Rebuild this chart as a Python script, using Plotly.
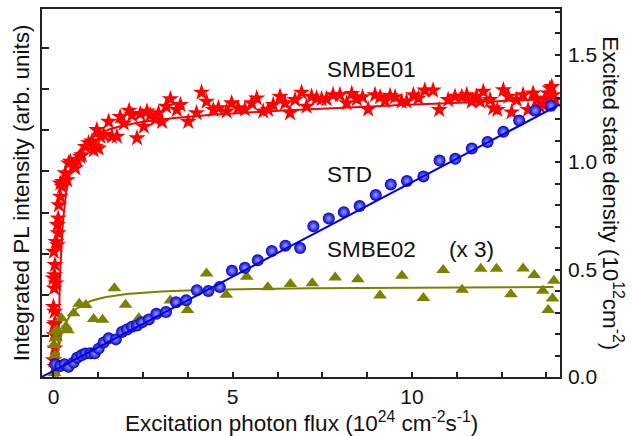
import numpy as np
import plotly.graph_objects as go

# ---------------- data ----------------
# SMBE01 integrated PL (stars, left axis, arb. units)
smbe01_x = [0.04, 0.00, 0.04, 0.02, 0.10, 0.02, 0.05, 0.00, 0.03, 0.02, 0.00, 0.07, 0.03, 0.04,
            0.01, 0.11, 0.07, 0.13, 0.11, 0.13, 0.15, 0.19, 0.24, 0.19, 0.26, 0.33, 0.38, 0.42,
            0.47, 0.56, 0.61, 0.66, 0.75, 0.79, 0.89, 0.98, 1.07, 1.12, 1.26, 1.17, 1.31, 1.21,
            1.40, 1.54, 1.63, 1.77, 1.86, 1.96, 2.11, 2.19, 2.33, 2.42, 2.52, 2.61, 2.70, 2.84,
            2.93, 3.03, 3.14, 3.26, 3.44, 3.54, 3.76, 3.99, 4.13, 4.27, 4.46, 4.60, 4.83, 4.97,
            5.15, 5.34, 5.53, 5.67, 5.85, 5.99, 6.13, 6.32, 6.46, 6.60, 6.74, 6.92, 7.06, 7.20,
            7.34, 7.48, 7.62, 7.80, 7.99, 8.18, 8.32, 8.46, 8.62, 8.78, 8.97, 9.11, 9.25, 9.39,
            9.53, 9.71, 9.85, 10.04, 10.18, 10.36, 10.59, 10.76, 11.01, 11.20, 11.39, 11.53,
            11.67, 11.80, 11.90, 11.99, 12.18, 12.27, 12.38, 12.55, 12.69, 12.78, 12.92, 13.10,
            13.24, 13.38, 13.48, 13.57, 13.66, 13.71, 13.80, 13.85, 13.90, 13.94, 13.99]
smbe01_y = [0.25, 0.41, 0.70, 1.02, 1.06, 1.27, 1.31, 1.71, 1.59, 2.16, 2.40, 2.28, 2.48, 2.73,
            3.05, 3.21, 3.29, 3.50, 3.70, 3.86, 4.18, 4.39, 4.63, 4.71, 4.75, 4.96, 4.79, 5.20,
            5.24, 5.16, 5.08, 5.28, 5.36, 5.40, 5.60, 5.69, 5.73, 5.52, 5.56, 5.60, 5.85, 6.01,
            5.89, 6.21, 5.85, 5.85, 6.33, 6.17, 6.48, 6.37, 5.81, 6.40, 6.09, 6.46, 6.37, 6.27,
            6.42, 6.21, 6.58, 6.76, 6.50, 6.62, 6.21, 6.42, 6.92, 6.70, 6.50, 6.54, 6.46, 6.66,
            6.54, 6.51, 6.66, 6.78, 6.46, 6.50, 6.62, 6.82, 6.66, 6.42, 6.74, 6.92, 6.58, 6.82,
            6.78, 6.76, 6.76, 6.86, 6.86, 6.66, 6.89, 6.76, 6.81, 6.51, 6.86, 6.81, 6.72, 6.84,
            6.81, 6.70, 6.70, 6.86, 6.78, 6.97, 6.97, 6.50, 6.74, 6.82, 6.82, 6.86,
            6.70, 6.82, 6.70, 6.94, 6.74, 6.54, 6.50, 6.98, 6.82, 6.44, 6.74, 6.86,
            6.50, 6.90, 6.74, 6.58, 6.62, 6.78, 6.90, 7.02, 7.06, 6.86, 6.74]

# SMBE02 integrated PL x3 (triangles, left axis)
smbe02_x = [0.03, 0.04, 0.01, 0.07, 0.03, 0.10, 0.22, 0.35, 0.40, 0.56, 0.72, 0.90, 1.12, 1.37,
            1.70, 2.01, 2.38, 2.82, 3.26, 3.74, 4.27, 4.82, 5.39, 5.98, 6.61, 7.22, 7.86, 8.49,
            9.11, 9.72, 10.32, 10.87, 11.40, 11.92, 12.36, 12.76, 13.10, 13.41, 13.65, 13.80,
            13.92, 13.96]
smbe02_y = [0.10, 0.52, 0.78, 0.94, 1.10, 1.14, 1.43, 1.23, 1.14, 1.55, 1.78, 1.75, 1.41, 1.39,
            2.16, 1.76, 1.43, 1.51, 1.86, 1.63, 2.52, 2.00, 2.44, 2.18, 2.26, 2.28, 2.42, 2.38,
            1.98, 2.46, 1.92, 2.60, 2.12, 2.63, 2.63, 2.01, 2.64, 2.48, 2.10, 1.63,
            1.91, 2.34]

# STD excited state density (spheres, right axis, 1e12 cm^-2)
std_x = [0.05, 0.19, 0.31, 0.42, 0.56, 0.66, 0.78, 0.89, 1.03, 1.15, 1.26, 1.40, 1.54, 1.74,
         1.91, 2.05, 2.19, 2.33, 2.47, 2.66, 2.87, 3.14, 3.42, 3.70, 4.00, 4.32, 4.64, 4.98,
         5.34, 5.70, 6.09, 6.47, 6.88, 7.25, 7.68, 8.10, 8.54, 8.99, 9.41, 9.86, 10.32, 10.77,
         11.21, 11.67, 12.11, 12.55, 12.99, 13.44, 13.88]
std_y = [0.059, 0.051, 0.059, 0.048, 0.067, 0.090, 0.101, 0.109, 0.110, 0.110, 0.132, 0.160,
         0.180, 0.175, 0.209, 0.221, 0.234, 0.240, 0.255, 0.268, 0.294, 0.302, 0.348, 0.357,
         0.404, 0.400, 0.419, 0.494, 0.508, 0.543, 0.586, 0.611, 0.600, 0.701, 0.737, 0.767,
         0.795, 0.847, 0.896, 0.912, 0.933, 1.007, 1.015, 1.063, 1.093, 1.141, 1.193, 1.240,
         1.262]

# fit parameters
SMBE01_FIT = dict(A=6.39, s=0.12, x0=0.10, B=0.03)
SMBE02_FIT = dict(A=2.22, s=0.05, x0=0.20)
STD_FIT = dict(slope=0.0877, intercept=0.029)

X_RANGE = [-0.32, 14.13]
Y_LEFT_RANGE = [0, 8.95]
Y_RIGHT_RANGE = [0, 1.712]

# ---------------- fit curves ----------------
xf1 = np.concatenate([np.linspace(SMBE01_FIT["s"], 0.6, 80), np.linspace(0.6, 14.05, 200)])
yf1 = (SMBE01_FIT["A"] * (xf1 - SMBE01_FIT["s"]) / (xf1 - SMBE01_FIT["s"] + SMBE01_FIT["x0"])
       + SMBE01_FIT["B"] * xf1)
xf2 = np.concatenate([np.linspace(SMBE02_FIT["s"], 1.0, 80), np.linspace(1.0, 13.95, 150)])
yf2 = SMBE02_FIT["A"] * (xf2 - SMBE02_FIT["s"]) / (xf2 - SMBE02_FIT["s"] + SMBE02_FIT["x0"])
xf3 = np.array([-STD_FIT["intercept"] / STD_FIT["slope"], X_RANGE[1]])
yf3 = STD_FIT["slope"] * xf3 + STD_FIT["intercept"]

FONT = "Liberation Sans, Arial, sans-serif"
RED = "#ff0000"
BLUE = "#0000e6"
OLIVE = "#808000"
TITLE_SIZE = 22.5
TICK_SIZE = 21
LABEL_SIZE = 22.5

fig = go.Figure()
fig.add_trace(go.Scatter(x=smbe01_x, y=smbe01_y, mode="markers",
                         marker=dict(symbol="star", size=13, color=RED, line=dict(width=0)),
                         yaxis="y", showlegend=False))
fig.add_trace(go.Scatter(x=xf1, y=yf1, mode="lines", line=dict(color=RED, width=2),
                         yaxis="y", showlegend=False))
fig.add_trace(go.Scatter(x=smbe02_x, y=smbe02_y, mode="markers",
                         marker=dict(symbol="triangle-up", size=12, color=OLIVE, line=dict(width=0)),
                         yaxis="y", showlegend=False))
fig.add_trace(go.Scatter(x=xf2, y=yf2, mode="lines", line=dict(color=OLIVE, width=2),
                         yaxis="y", showlegend=False))
fig.add_trace(go.Scatter(x=std_x, y=std_y, mode="markers",
                         marker=dict(symbol="circle", size=12, color="#0000c8",
                                     gradient=dict(type="radial", color="#9a9aff"),
                                     line=dict(width=0)),
                         yaxis="y2", showlegend=False))
fig.add_trace(go.Scatter(x=xf3, y=yf3, mode="lines", line=dict(color=BLUE, width=2),
                         yaxis="y2", showlegend=False))

axis_line = dict(showline=True, linecolor="#222222", linewidth=1.5, showgrid=False,
                 zeroline=False, automargin=False)

fig.update_layout(
    width=632, height=436,
    margin=dict(l=42, r=72, t=9, b=59),
    paper_bgcolor="white", plot_bgcolor="white",
    font=dict(family=FONT, size=20, color="#111111"),
    xaxis=dict(range=X_RANGE, mirror=True, ticks="inside", ticklen=5, tickwidth=1.5,
               tickcolor="#222222", tickvals=[0, 5, 10], ticklabelstandoff=0,
               minor=dict(tickvals=[1.25, 2.5, 3.75, 6.25, 7.5, 8.75, 11.25, 12.5, 13.75],
                          ticks="inside", ticklen=5, tickwidth=1.5, tickcolor="#222222"),
               tickfont=dict(size=TICK_SIZE), **axis_line),
    yaxis=dict(range=Y_LEFT_RANGE, ticks="inside", ticklen=7, tickwidth=1.5, tickcolor="#222222",
               dtick=1, tick0=0, showticklabels=False, **axis_line),
    yaxis2=dict(range=Y_RIGHT_RANGE, overlaying="y", side="right", anchor="x",
                ticks="inside", ticklen=5, tickwidth=1.5, tickcolor="#222222",
                tickvals=[0, 0.5, 1.0, 1.5], ticktext=["0.0", "0.5", "1.0", "1.5"],
                ticklabelstandoff=2,
                minor=dict(dtick=0.1, tick0=0, ticks="inside", ticklen=5, tickwidth=1.5,
                           tickcolor="#222222"),
                tickfont=dict(size=TICK_SIZE), **axis_line),
    annotations=[
        dict(text="Excitation photon flux (10<sup>24</sup> cm<sup>-2</sup>s<sup>-1</sup>)",
             xref="paper", yref="paper", x=0.5, y=-0.121, xanchor="center", yanchor="middle",
             showarrow=False, font=dict(size=TITLE_SIZE)),
        dict(text="Integrated PL intensity (arb. units)", xref="paper", yref="paper",
             x=-0.040, y=0.5, xanchor="center", yanchor="middle", textangle=-90,
             showarrow=False, font=dict(size=TITLE_SIZE)),
        dict(text="Excited state density (10<sup>12</sup>cm<sup>-2</sup>)", xref="paper", yref="paper",
             x=1.102, y=0.5, xanchor="center", yanchor="middle", textangle=90,
             showarrow=False, font=dict(size=TITLE_SIZE)),
        dict(text="SMBE01", x=7.57, y=1.431, xref="x", yref="y2", xanchor="left", yanchor="middle",
             showarrow=False, font=dict(size=LABEL_SIZE)),
        dict(text="STD", x=7.57, y=0.943, xref="x", yref="y2", xanchor="left", yanchor="middle",
             showarrow=False, font=dict(size=LABEL_SIZE)),
        dict(text="SMBE02", x=7.57, y=0.593, xref="x", yref="y2", xanchor="left", yanchor="middle",
             showarrow=False, font=dict(size=LABEL_SIZE)),
        dict(text="(x 3)", x=10.97, y=0.593, xref="x", yref="y2", xanchor="left", yanchor="middle",
             showarrow=False, font=dict(size=LABEL_SIZE)),
    ],
)

fig.write_html("out.html")
